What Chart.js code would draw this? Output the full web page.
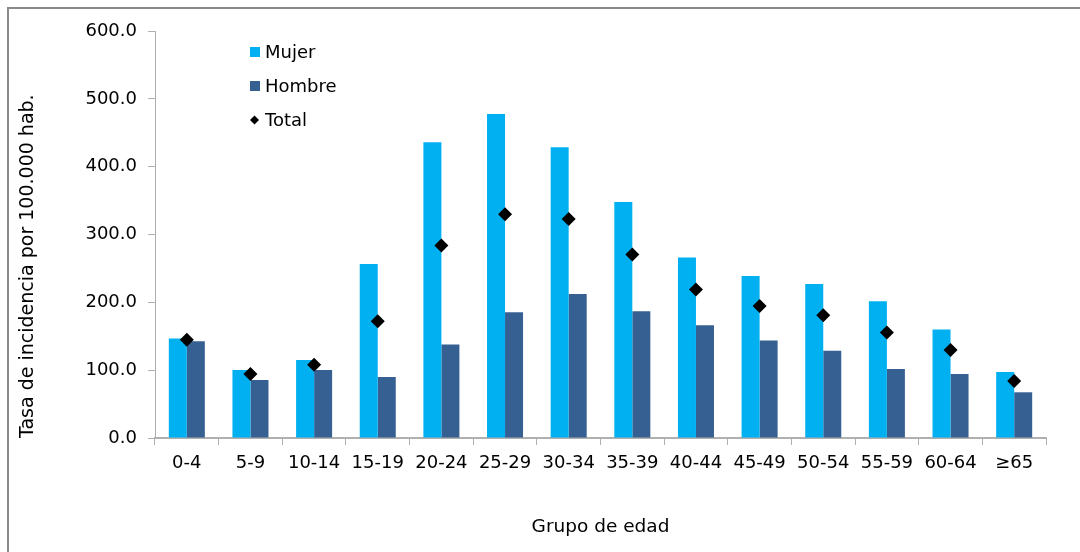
<!DOCTYPE html>
<html lang="es">
<head>
<meta charset="utf-8">
<title>Tasa de incidencia por grupo de edad</title>
<script src="https://cdn.jsdelivr.net/npm/chart.js@4.4.1/dist/chart.umd.min.js"></script>
<style>
  html, body { margin: 0; padding: 0; background: #fff; overflow: hidden; }
  #wrap { position: relative; width: 1080px; height: 552px; }
</style>
</head>
<body>
<div id="wrap"><canvas id="grafico" width="1080" height="552"></canvas></div>
<script>
// Grupos de edad y tasas por 100.000 hab.
const grupos = ["0-4", "5-9", "10-14", "15-19", "20-24", "25-29", "30-34",
                "35-39", "40-44", "45-49", "50-54", "55-59", "60-64", "≥65"];
const mujer  = [146.5, 100.3, 115.0, 256.5, 436.0, 477.7, 428.6,
                348.0, 266.0, 238.9, 227.0, 201.5, 159.8, 97.3];
const hombre = [142.6, 85.5, 100.3, 90.0, 137.7, 185.3, 212.3,
                186.8, 166.2, 143.6, 128.8, 101.8, 94.4, 67.4];
const total  = [145.0, 94.4, 108.0, 172.0, 283.6, 330.0, 322.9,
                270.4, 218.8, 194.6, 180.9, 155.4, 129.8, 84.0];
const ticksY = [0, 100, 200, 300, 400, 500, 600];

const FUENTE = '"DejaVu Sans", Verdana, sans-serif';

// Marco gris (solo bordes superior e izquierdo quedan dentro del lienzo)
const marco = {
    id: "marco",
    beforeDraw(chart) {
        const ctx = chart.ctx;
        ctx.save();
        ctx.fillStyle = "#8a8a8a";
        ctx.fillRect(7, 7, chart.width - 7, 2);
        ctx.fillRect(7, 7, 2, chart.height - 7);
        ctx.restore();
    }
};

// Leyenda dentro del área del gráfico, arriba a la izquierda
const leyendaInterna = {
    id: "leyendaInterna",
    afterDraw(chart) {
        const ctx = chart.ctx;
        const x0 = 250, y0 = 52, paso = 34;
        ctx.save();
        ctx.font = "18px " + FUENTE;
        ctx.textBaseline = "middle";
        ctx.textAlign = "left";
        chart.data.datasets.forEach((ds, i) => {
            const y = y0 + i * paso;
            ctx.fillStyle = ds.backgroundColor;
            if (ds.type === "line") {
                ctx.beginPath();
                ctx.moveTo(x0 + 4.5, y - 4.5);
                ctx.lineTo(x0 + 9, y);
                ctx.lineTo(x0 + 4.5, y + 4.5);
                ctx.lineTo(x0, y);
                ctx.closePath();
                ctx.fill();
            } else {
                ctx.fillRect(x0, y - 5, 10, 10);
            }
            ctx.fillStyle = "#000";
            ctx.fillText(ds.label, x0 + 15, y + 1);
        });
        ctx.restore();
    }
};

const ctx = document.getElementById("grafico").getContext("2d");

new Chart(ctx, {
    type: "bar",
    data: {
        labels: grupos,
        datasets: [
            {
                label: "Mujer",
                data: mujer,
                backgroundColor: "#00b0f0",
                categoryPercentage: 0.566,
                barPercentage: 1.0,
                order: 1
            },
            {
                label: "Hombre",
                data: hombre,
                backgroundColor: "#376092",
                categoryPercentage: 0.566,
                barPercentage: 1.0,
                order: 1
            },
            {
                type: "line",
                label: "Total",
                data: total,
                showLine: false,
                pointStyle: "rectRot",
                pointRadius: 7,
                pointHoverRadius: 7,
                backgroundColor: "#000",
                borderColor: "#000",
                borderWidth: 0,
                order: 0
            }
        ]
    },
    options: {
        responsive: false,
        animation: false,
        layout: {
            padding: { top: 31, right: 34, bottom: 0, left: 0 }
        },
        plugins: {
            legend: { display: false },
            tooltip: { enabled: false }
        },
        scales: {
            x: {
                grid: {
                    drawOnChartArea: false,
                    tickLength: 7,
                    color: "#b0b0b0"
                },
                border: { color: "#b0b0b0", width: 2 },
                ticks: {
                    color: "#000",
                    padding: 8,
                    maxRotation: 0,
                    font: { family: FUENTE, size: 18 }
                },
                title: {
                    display: true,
                    text: "Grupo de edad",
                    color: "#000",
                    padding: { top: 0, bottom: 14 },
                    font: { family: FUENTE, size: 18.5 }
                },
                afterFit(scale) {
                    scale.height = 114;
                }
            },
            y: {
                min: 0,
                max: 600,
                grid: {
                    drawOnChartArea: false,
                    tickLength: 7,
                    color: "#b0b0b0"
                },
                border: { color: "#b0b0b0", width: 1 },
                ticks: {
                    color: "#000",
                    padding: 11,
                    font: { family: FUENTE, size: 18 },
                    callback: v => v.toFixed(1)
                },
                afterBuildTicks(scale) {
                    scale.ticks = ticksY.map(v => ({ value: v }));
                },
                title: {
                    display: true,
                    text: "Tasa de incidencia por 100.000 hab.",
                    color: "#000",
                    align: "start",
                    padding: { top: 17, bottom: 0 },
                    font: { family: FUENTE, size: 19 }
                },
                afterFit(scale) {
                    scale.width = 155;
                }
            }
        }
    },
    plugins: [marco, leyendaInterna]
});
</script>
</body>
</html>
